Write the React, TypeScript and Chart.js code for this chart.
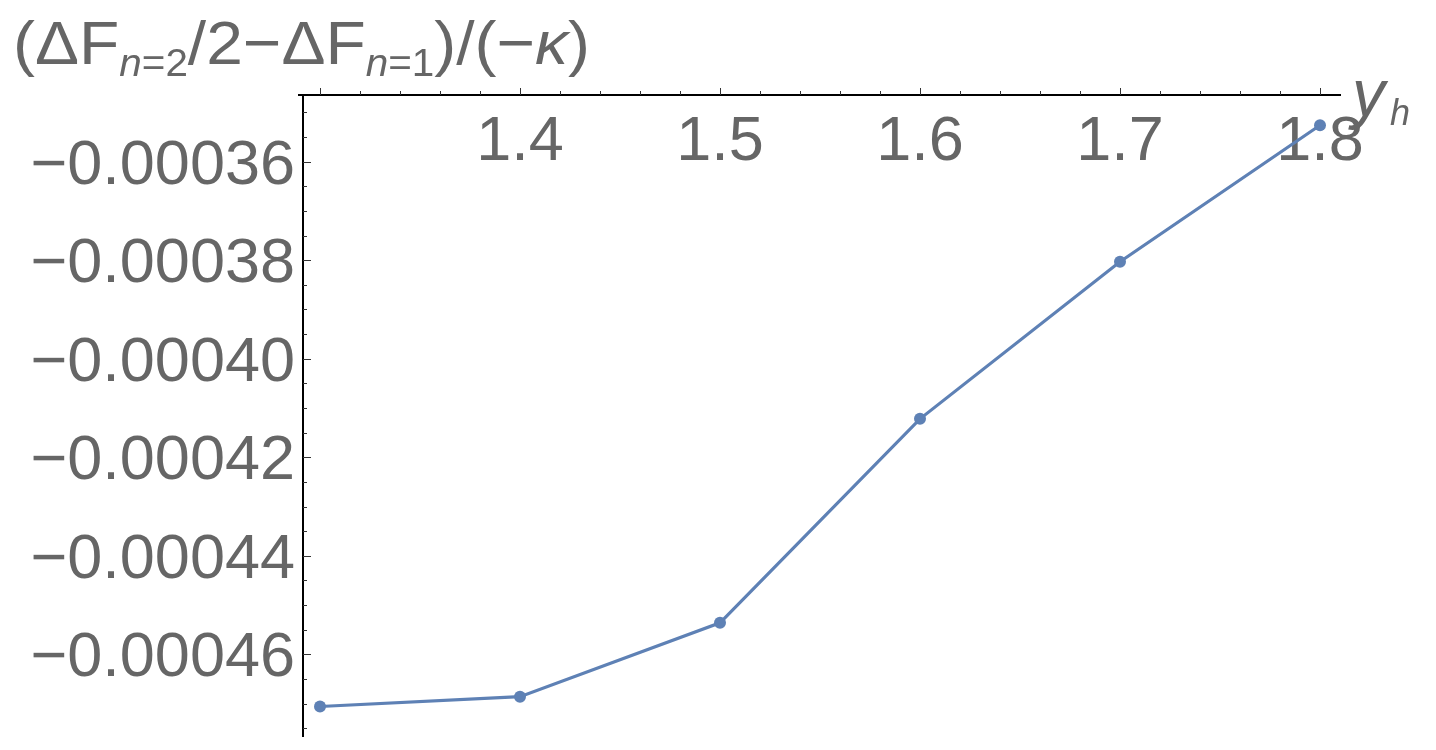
import React, { useEffect, useRef } from "react";
import { Chart, registerables } from "chart.js";

Chart.register(...registerables);

// ---- data ----
const xValues = [1.3, 1.4, 1.5, 1.6, 1.7, 1.8];
const yValues = [-0.0004706, -0.0004686, -0.0004536, -0.0004122, -0.0003803, -0.0003526];

// ---- axes / ticks ----
const xMajorTicks = [1.3, 1.4, 1.5, 1.6, 1.7, 1.8];
const xTickLabels = ["", "1.4", "1.5", "1.6", "1.7", "1.8"];
const yMajorTicks = [-0.00036, -0.00038, -0.0004, -0.00042, -0.00044, -0.00046];
const yTickLabels = ["\u22120.00036", "\u22120.00038", "\u22120.00040", "\u22120.00042", "\u22120.00044", "\u22120.00046"];
const X_MIN = 1.2915;
const X_MAX = 1.8105;
const Y_MIN = -0.00047679;
const Y_MAX = -0.00034646;
const X_MINOR_STEP = 0.02;
const Y_MINOR_STEP = 0.000005;

const FONT = '"Liberation Sans", Arial, Helvetica, sans-serif';
const LABEL_COLOR = "#666666";
const LINE_COLOR = "#5E81B5";

type Run = { t: string; size: number; italic?: boolean; sub?: boolean };

const titleRuns: Run[] = [
  { t: "(\u0394F", size: 62 },
  { t: "n", size: 38, italic: true, sub: true },
  { t: "=2", size: 38, sub: true },
  { t: "/2\u2212\u0394F", size: 62 },
  { t: "n", size: 38, italic: true, sub: true },
  { t: "=1", size: 38, sub: true },
  { t: ")/(\u2212", size: 62 },
  { t: "\u03BA", size: 62, italic: true },
  { t: ")", size: 62 },
];
const TITLE_WIDTH = 577;

function drawRuns(ctx: CanvasRenderingContext2D, runs: Run[], x: number, baseline: number, subBaseline: number) {
  ctx.textAlign = "left";
  ctx.textBaseline = "alphabetic";
  let total = 0;
  for (const r of runs) {
    ctx.font = `${r.italic ? "italic " : ""}${r.size}px ${FONT}`;
    total += ctx.measureText(r.t).width;
  }
  const sx = TITLE_WIDTH / total;
  ctx.save();
  ctx.translate(x, 0);
  ctx.scale(sx, 1);
  let cx = 0;
  for (const r of runs) {
    ctx.font = `${r.italic ? "italic " : ""}${r.size}px ${FONT}`;
    ctx.fillText(r.t, cx, r.sub ? subBaseline : baseline);
    cx += ctx.measureText(r.t).width;
  }
  ctx.restore();
}

const axesPlugin = {
  id: "mmaAxes",
  beforeDatasetsDraw(chart: any) {
    const ctx: CanvasRenderingContext2D = chart.ctx;
    const xs = chart.scales.x;
    const ys = chart.scales.y;
    const { left, right, top, bottom } = chart.chartArea;
    ctx.save();

    // axis lines
    ctx.strokeStyle = "#000";
    ctx.lineWidth = 2;
    ctx.beginPath();
    ctx.moveTo(left - 5, top);
    ctx.lineTo(right, top);
    ctx.stroke();
    ctx.beginPath();
    ctx.moveTo(left, top);
    ctx.lineTo(left, bottom);
    ctx.stroke();

    // x ticks (pointing up)
    ctx.lineWidth = 1;
    ctx.strokeStyle = "#333";
    for (let k = -5; k <= 30; k++) {
      const v = xMajorTicks[0] + k * X_MINOR_STEP;
      const px = xs.getPixelForValue(v);
      if (px < left || px > right) continue;
      const major = k % 5 === 0;
      const len = major ? 7 : 4;
      ctx.beginPath();
      ctx.moveTo(Math.round(px) + 0.5, top);
      ctx.lineTo(Math.round(px) + 0.5, top - len);
      ctx.stroke();
    }
    // y ticks (pointing right)
    for (let k = -30; k <= 5; k++) {
      const v = yMajorTicks[0] + k * Y_MINOR_STEP;
      const py = ys.getPixelForValue(v);
      if (py < top + 1 || py > bottom) continue;
      const major = k % 4 === 0;
      const len = major ? 8 : 4;
      ctx.beginPath();
      ctx.moveTo(left, Math.round(py) + 0.5);
      ctx.lineTo(left + len, Math.round(py) + 0.5);
      ctx.stroke();
    }

    // tick labels
    ctx.fillStyle = LABEL_COLOR;
    ctx.font = `63px ${FONT}`;
    ctx.textBaseline = "alphabetic";
    ctx.textAlign = "center";
    xMajorTicks.forEach((v, i) => {
      if (!xTickLabels[i]) return;
      ctx.fillText(xTickLabels[i], xs.getPixelForValue(v), top + 65);
    });
    ctx.textAlign = "right";
    yMajorTicks.forEach((v, i) => {
      ctx.fillText(yTickLabels[i], left - 8, ys.getPixelForValue(v) + 22);
    });

    // axis labels
    drawRuns(ctx, titleRuns, 13, 64, 76);
    ctx.textAlign = "left";
    ctx.font = `italic 66px ${FONT}`;
    ctx.fillText("y", right + 11, 116);
    ctx.font = `italic 36px ${FONT}`;
    ctx.fillText("h", right + 49, 125);

    ctx.restore();
  },
};

export default function App() {
  const ref = useRef<HTMLCanvasElement | null>(null);
  useEffect(() => {
    if (!ref.current) return;
    const chart = new Chart(ref.current, {
      type: "line",
      data: {
        datasets: [
          {
            data: xValues.map((x, i) => ({ x, y: yValues[i] })),
            borderColor: LINE_COLOR,
            backgroundColor: LINE_COLOR,
            borderWidth: 3.2,
            pointRadius: 6,
            pointBorderWidth: 0,
            tension: 0,
            clip: false as any,
          },
        ],
      },
      options: {
        responsive: false,
        animation: false,
        layout: { padding: { left: 303, right: 95, top: 95, bottom: 13 } },
        scales: {
          x: { type: "linear", min: X_MIN, max: X_MAX, display: false },
          y: { type: "linear", min: Y_MIN, max: Y_MAX, display: false },
        },
        plugins: { legend: { display: false }, tooltip: { enabled: false } },
      },
      plugins: [axesPlugin],
    });
    return () => chart.destroy();
  }, []);
  return (
    <div style={{ position: "fixed", left: 0, top: 0, width: 1436, height: 750, background: "#fff" }}>
      <canvas ref={ref} width={1436} height={750} style={{ display: "block" }} />
    </div>
  );
}
